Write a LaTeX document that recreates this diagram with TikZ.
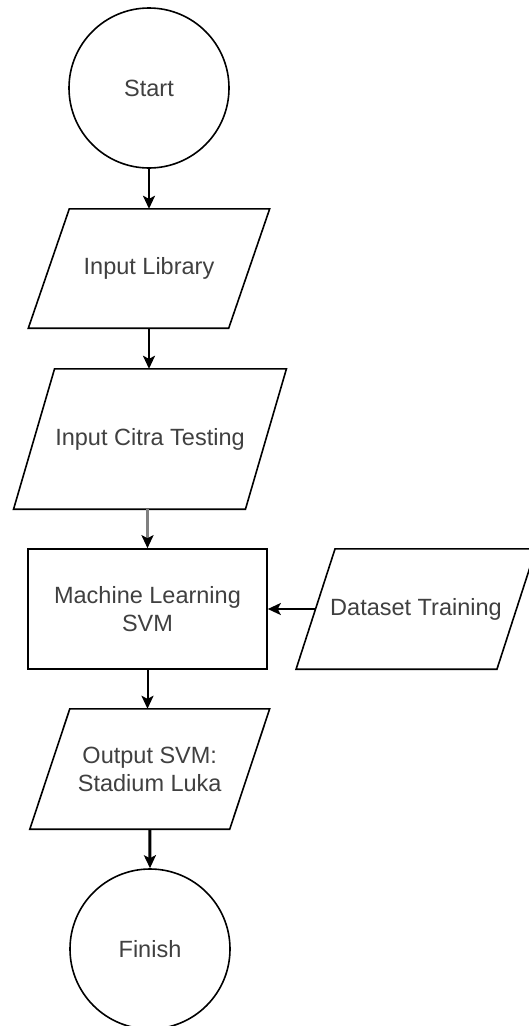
\documentclass[tikz,border=0pt]{standalone}
\usepackage{fontspec}
\setmainfont{Liberation Sans}
\usetikzlibrary{arrows.meta,calc}
\definecolor{txt}{HTML}{404040}
\tikzset{
  shp/.style={draw=black,line width=1.6pt},
  lbl/.style={draw=none,inner sep=0pt,text=txt,align=center,font=\fontsize{23.5}{28}\selectfont},
  arr/.style={line width=2pt,-{Stealth[length=13pt,width=12pt,inset=3pt]}},
}
\newcommand{\para}[2]{\draw[shp] ($(#1.south west)+(-#2,0)$) -- ($(#1.north west)+(#2,0)$) -- ($(#1.north east)+(#2,0)$) -- ($(#1.south east)+(-#2,0)$) -- cycle;}
\begin{document}
\begin{tikzpicture}[x=1pt,y=-1pt]
\useasboundingbox[fill=white] (0,0) rectangle (529,1026);
% Start
\node[lbl,shp,circle,minimum size=160pt] (start) at (149,88) {Start};
% Input Library
\node[lbl,minimum width=200pt,minimum height=119pt] (lib) at (149,268.5) {Input Library};
\para{lib}{20.5}
% Input Citra Testing
\node[lbl,minimum width=231.5pt,minimum height=140pt] (citra) at (150,439) {Input Citra Testing};
\para{citra}{20.5}
% Machine Learning SVM
\node[lbl,shp,rectangle,minimum width=239pt,minimum height=120pt] (ml) at (147.5,609) {Machine Learning\\SVM};
% Dataset Training
\node[lbl,minimum width=200.5pt,minimum height=120pt] (data) at (416,609) {Dataset Training};
\para{data}{19.5}
% Output SVM
\node[lbl,minimum width=199.5pt,minimum height=120pt] (out) at (149.75,769) {Output SVM:\\Stadium Luka};
\para{out}{20}
% Finish
\node[lbl,shp,circle,minimum size=160pt] (finish) at (150,949) {Finish};
% connectors
\draw[arr] (start.south) -- (lib.north);
\draw[arr] (lib.south) -- (lib.south |- citra.north);
\draw[arr,line width=2.6pt,draw=black!50,-{Stealth[length=13pt,width=12pt,inset=3pt,black]}] (citra.south -| ml.north) -- (ml.north);
\draw[arr] (data.west) -- (ml.east);
\draw[arr] (ml.south) -- (out.north -| ml.south);
\draw[arr,line width=3pt] (out.south) -- (finish.north);
\end{tikzpicture}
\end{document}
